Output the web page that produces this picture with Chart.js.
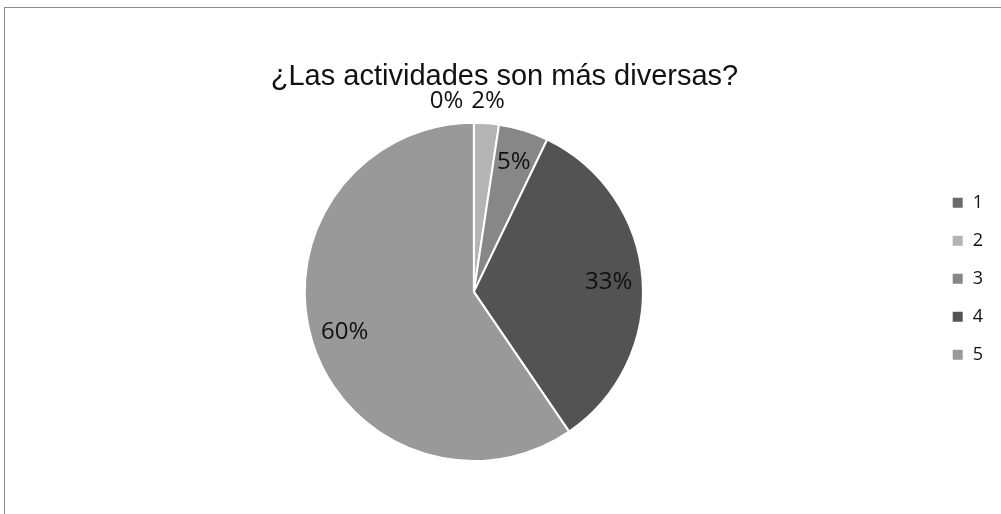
<!DOCTYPE html>
<html>
<head>
<meta charset="utf-8">
<script src="https://cdn.jsdelivr.net/npm/chart.js@4"></script>
<style>
  html, body { margin: 0; padding: 0; background: #fff; }
  #frame { position: absolute; left: 4px; top: 7px; width: 1010px; height: 600px; border: 1px solid #8c8c8c; }
  #wrap { position: absolute; left: 0; top: 0; width: 1001px; height: 514px; }
</style>
</head>
<body>
<div id="frame"></div>
<div id="wrap"><canvas id="pieChart"></canvas></div>
<script>
// ====== DATA ======
const categories = ['1', '2', '3', '4', '5'];
const responses = [0, 1, 2, 14, 25];   // counts, shown as %
const sliceColors = ['#6b6b6b', '#b4b4b4', '#878787', '#535353', '#999999'];
const chartTitle = '¿Las actividades son más diversas?';

// ====== PERCENT LABELS (drawn on the arcs) ======
const pctLabels = {
  id: 'pctLabels',
  afterDatasetsDraw(chart) {
    const ctx = chart.ctx;
    const meta = chart.getDatasetMeta(0);
    const total = responses.reduce((a, b) => a + b, 0);
    ctx.save();
    ctx.font = '24px "Open Sans", sans-serif';
    ctx.fillStyle = '#111';
    ctx.textBaseline = 'middle';
    ctx.textAlign = 'center';
    // draw from the last slice back so small labels can push left
    let prevLeft = null;
    for (let i = meta.data.length - 1; i >= 0; i--) {
      const arc = meta.data[i];
      const pct = Math.round(responses[i] / total * 100) + '%';
      const mid = (arc.startAngle + arc.endAngle) / 2;
      const share = responses[i] / total;
      let r = share < 0.035 ? arc.outerRadius + 22 : arc.outerRadius * 0.8;
      let x = arc.x + Math.cos(mid) * r;
      let y = arc.y + Math.sin(mid) * r;
      const w = ctx.measureText(pct).width;
      if (share < 0.035) {
        if (prevLeft !== null && x + w / 2 > prevLeft - 8) x = prevLeft - 8 - w / 2;
        prevLeft = x - w / 2;
      }
      ctx.fillText(pct, x, y);
    }
    ctx.restore();
  }
};

document.addEventListener('DOMContentLoaded', () => {
  const ctx = document.getElementById('pieChart').getContext('2d');
  new Chart(ctx, {
    type: 'pie',
    data: {
      labels: categories,
      datasets: [{
        data: responses,
        backgroundColor: sliceColors,
        borderColor: '#ffffff',
        borderWidth: 2
      }]
    },
    options: {
      responsive: true,
      maintainAspectRatio: false,
      animation: false,
      layout: { padding: { left: 16, right: 8, top: 0, bottom: 52 } },
      plugins: {
        tooltip: { enabled: false },
        title: {
          display: true,
          text: chartTitle,
          color: '#111',
          font: { family: '"Liberation Sans", Arial, sans-serif', size: 29, weight: 'normal' },
          padding: { top: 60, bottom: 27 }
        },
        legend: {
          position: 'right',
          align: 'start',
          fullSize: false,
          title: { display: true, text: ' ', font: { size: 10 }, padding: { top: 40, bottom: 0 } },
          labels: {
            boxWidth: 12,
            boxHeight: 12,
            padding: 20,
            color: '#111',
            font: { family: '"Open Sans", sans-serif', size: 18 }
          }
        }
      }
    },
    plugins: [pctLabels]
  });
});
</script>
</body>
</html>
